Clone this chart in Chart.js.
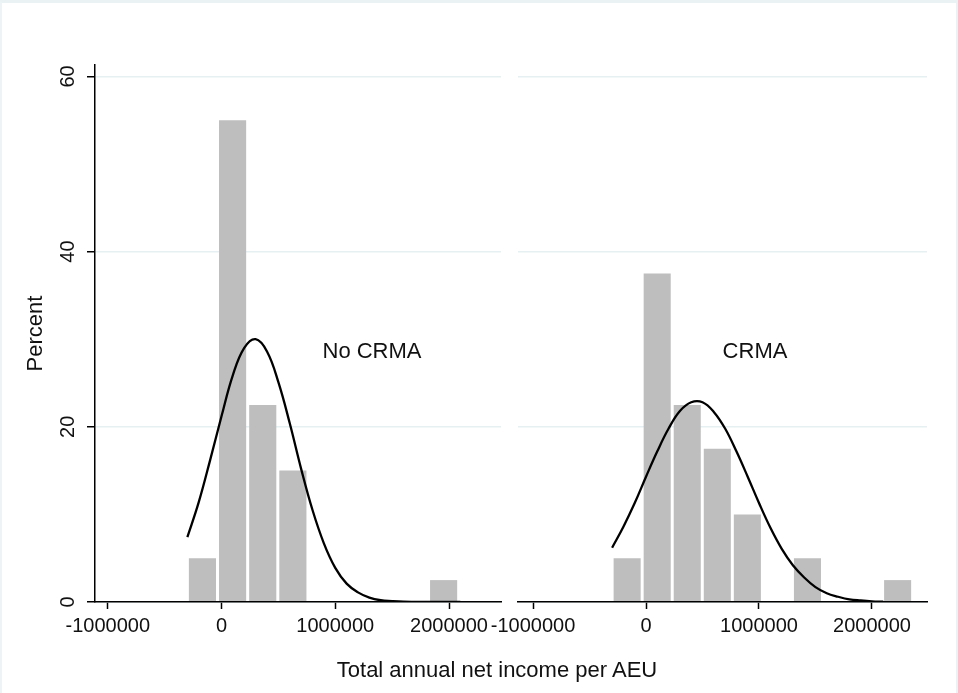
<!DOCTYPE html>
<html>
<head>
<meta charset="utf-8">
<script src="https://cdn.jsdelivr.net/npm/chart.js@4.4.1/dist/chart.umd.min.js"></script>
<style>
  html, body { margin: 0; padding: 0; background: #fff; }
  #wrap { position: relative; width: 958px; height: 693px; overflow: hidden;
          font-family: 'Liberation Sans', Arial, sans-serif; color: #111; }
  #frame { position: absolute; left: 0; top: 0; width: 954px; height: 690px;
           border-top: 3px solid #eaf2f3; border-left: 2px solid #eef4f5; border-right: 2px solid #eaf2f3; }
  canvas { position: absolute; top: 0; }
  #left { left: 0; }
  #right { left: 440px; }
  .lbl { position: absolute; font-size: 22px; line-height: 1; white-space: nowrap; transform: translate(-50%, -50%); }
</style>
</head>
<body>
<div id="wrap">
  <div id="frame"></div>
  <canvas id="left" width="505" height="693"></canvas>
  <canvas id="right" width="518" height="693"></canvas>
  <div class="lbl" style="left:372px; top:351px;">No CRMA</div>
  <div class="lbl" style="left:755px; top:351px;">CRMA</div>
  <div class="lbl" style="left:497px; top:670px;">Total annual net income per AEU</div>
</div>
<script>
// histogram bins (bin centres) and percent per bin
const noCrmaBins = [-167500, 97500, 362500, 627500, 892500, 1157500, 1422500, 1687500, 1952500];
const noCrmaPct  = [5, 55, 22.5, 15, 0, 0, 0, 0, 2.5];
const crmaBins   = [-167000, 99000, 365000, 631000, 897000, 1163000, 1429000, 1695000, 1961000, 2227000];
const crmaPct    = [5, 37.5, 22.5, 17.5, 10, 0, 5, 0, 0, 2.5];

// normal density overlays
const curveX = [-300000, -200000, -100000, 0, 100000, 200000, 300000, 400000, 500000, 600000,
                700000, 800000, 900000, 1000000, 1100000, 1200000, 1300000, 1400000, 1500000,
                1600000, 1700000, 1800000, 1900000, 2000000, 2100000];
const noCrmaCurve = [7.4, 11.4, 16.2, 21.2, 25.9, 29.0, 30.0, 28.6, 25.1, 20.4, 15.2, 10.5, 6.7,
                     3.9, 2.1, 1.1, 0.5, 0.2, 0.1, 0.03, 0.01, 0, 0, 0, 0];
const crmaCurve   = [6.2, 8.6, 11.3, 14.3, 17.2, 19.8, 21.8, 22.8, 22.8, 21.7, 19.8, 17.2, 14.3,
                     11.3, 8.5, 6.1, 4.2, 2.8, 1.7, 1.0, 0.6, 0.3, 0.17, 0.08, 0.04];

const xTicks = [-1000000, 0, 1000000, 2000000];
const yTicks = [0, 20, 40, 60];

const FONT = "'Liberation Sans', Arial, sans-serif";
const GRID = '#e6eff2';

function panel(id, bins, pct, curve, first, xmin, xmax, padRight) {
  return new Chart(document.getElementById(id), {
    type: 'bar',
    data: {
      datasets: [
        {
          type: 'line',
          data: curveX.map((x, i) => ({ x: x, y: curve[i] })),
          borderColor: '#000',
          borderWidth: 2.3,
          pointRadius: 0,
          fill: false,
          tension: 0.4,
          order: 0
        },
        {
          data: bins.map((x, i) => ({ x: x, y: pct[i] })),
          backgroundColor: '#bebebe',
          borderWidth: 0,
          barPercentage: 0.9,
          categoryPercentage: 1,
          order: 1
        }
      ]
    },
    options: {
      responsive: false,
      animation: false,
      events: [],
      layout: { padding: { top: 65, right: padRight, bottom: 51, left: 0 } },
      plugins: { legend: { display: false }, tooltip: { enabled: false } },
      scales: {
        x: {
          type: 'linear',
          min: xmin,
          max: xmax,
          offset: false,
          grid: { display: true, drawOnChartArea: false, drawTicks: true, tickLength: 7,
                  tickColor: '#000', tickWidth: 1.5, offset: false },
          border: { color: '#000', width: 1.5, z: 1 },
          ticks: { font: { family: FONT, size: 20 }, color: '#111', padding: 5,
                   autoSkip: false, maxRotation: 0, callback: v => String(v) },
          afterBuildTicks: s => { s.ticks = xTicks.map(v => ({ value: v })); },
          afterFit: s => { s.height = 40; }
        },
        y: {
          min: 0,
          max: 61.3,
          grid: { color: GRID, lineWidth: 1.5, drawTicks: first, tickLength: 8,
                  tickColor: '#000', tickWidth: 1.5 },
          border: { display: first, color: '#000', width: 1.5, z: 1 },
          ticks: { display: first, font: { family: FONT, size: 20 }, color: '#111',
                   minRotation: 90, maxRotation: 90, crossAlign: 'center', padding: 7,
                   callback: v => String(v) },
          title: { display: first, text: 'Percent', color: '#111',
                   font: { family: FONT, size: 22 }, padding: { top: 23, bottom: 0 } },
          afterBuildTicks: s => { s.ticks = yTicks.map(v => ({ value: v })); },
          afterFit: s => { s.width = first ? 95 : 78; }
        }
      }
    }
  });
}

panel('left', noCrmaBins, noCrmaPct, noCrmaCurve, true, -1112000, 2457000, 4);
panel('right', crmaBins, crmaPct, crmaCurve, false, -1133000, 2487000, 31);
</script>
</body>
</html>
